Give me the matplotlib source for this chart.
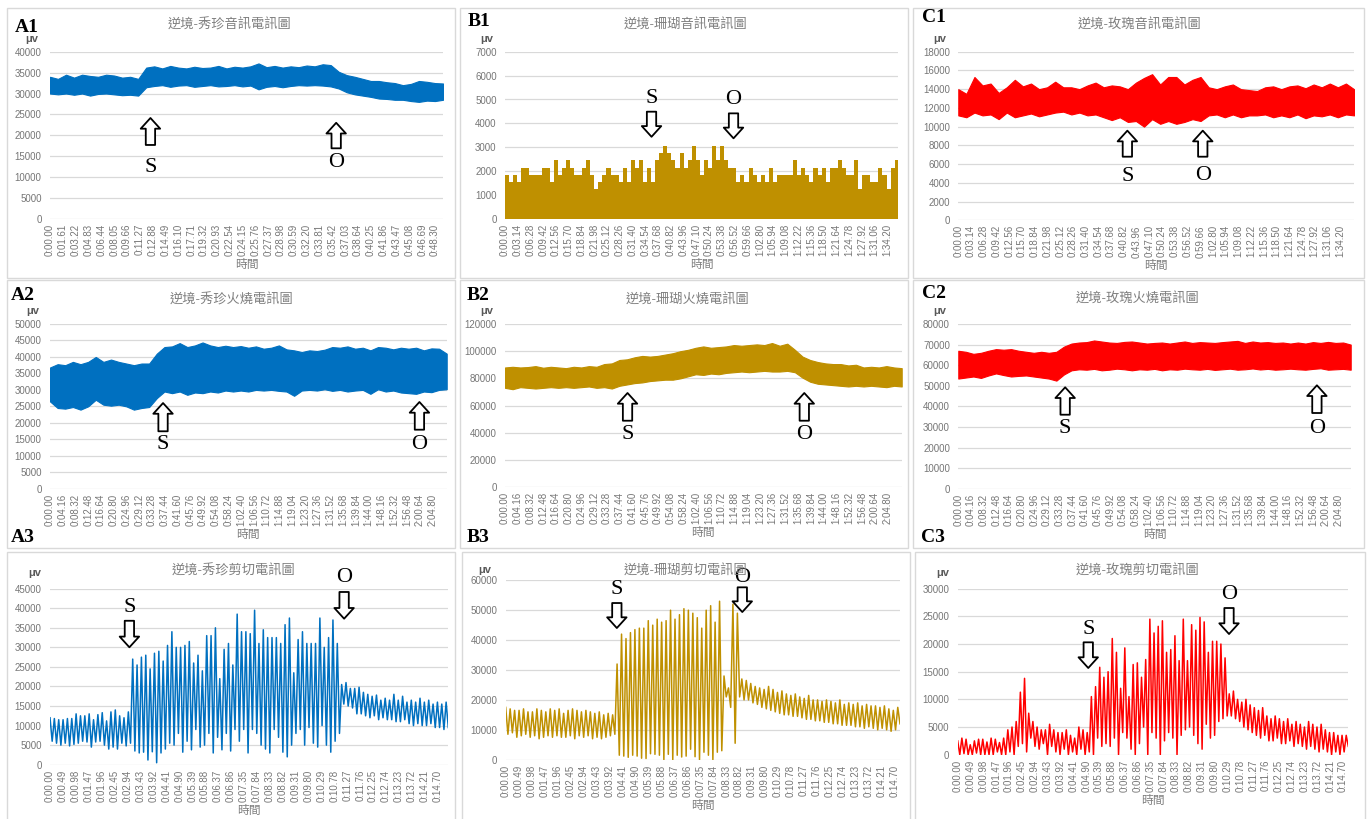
import numpy as np
import matplotlib.pyplot as plt
from matplotlib.patches import Rectangle

plt.rcParams['font.family'] = ['Liberation Sans', 'Noto Sans CJK TC', 'DejaVu Sans']

BLUE, GOLD, RED = '#0070C0', '#BF9000', '#FF0000'

# ---- data (µV) ----
# A1 音訊 (band envelope, one value per second)
a1_upper = [34000, 33500, 34500, 33800, 34500, 34200, 34000, 34500, 34300, 33800, 34000, 33500,
            36200, 36500, 36000, 36600, 36200, 36000, 36400, 36100, 36200, 36600, 36000, 36400,
            36200, 36500, 37200, 36300, 36600, 36200, 36500, 36300, 36700, 36500, 37000, 36800,
            35200, 34400, 34000, 33500, 33000, 33000, 32700, 32500, 32000, 32300, 33000, 32800,
            32500, 32400]
a1_lower = [30000, 29800, 30000, 29700, 30000, 29500, 29900, 30000, 29800, 29600, 29700, 29500,
            31500, 31800, 32000, 31600, 31900, 32000, 31600, 31800, 32000, 31700, 31800, 32000,
            31700, 31900, 31000, 31600, 31800, 31500, 31800, 32000, 31900, 32000, 31900, 31700,
            31200, 30300, 29800, 29500, 29200, 28800, 28700, 28500, 28500, 28200, 28000, 28300,
            28200, 28500]

# B1 音訊 (column heights, one per second)
b1_values = [1850, 1550, 1850, 1550, 2150, 2150, 1850, 1850, 1850, 2150, 2150, 1550, 2450, 1850,
             2150, 2450, 2150, 1850, 1850, 2150, 2450, 1850, 1250, 1550, 1850, 2150, 1850, 1850,
             1550, 2150, 1550, 2450, 2150, 2450, 1550, 2150, 1550, 2450, 2750, 3050, 2750, 2450,
             2150, 2750, 2150, 2450, 3050, 2450, 1850, 2450, 2150, 3050, 2450, 3050, 2450, 2150,
             2150, 1550, 1850, 1550, 2150, 1850, 1550, 1850, 1550, 2150, 1550, 1850, 1850, 1850,
             1850, 2450, 1850, 2150, 1850, 1550, 2150, 1850, 2150, 1550, 2150, 2150, 2450, 2150,
             1850, 1850, 2450, 1250, 1850, 1850, 1550, 1550, 2150, 1850, 1250, 2150, 2450]

# C1 音訊 (band envelope)
c1_upper = [14000, 13500, 15300, 14400, 14600, 13600, 14200, 15000, 14300, 14600, 14000, 14200,
            14800, 14200, 14200, 14000, 14400, 14700, 14200, 14400, 14300, 14000, 14700, 15200,
            15600, 14500, 15300, 15300, 14500, 15000, 15300, 14200, 14000, 14300, 14500, 14000,
            13900, 13800, 14200, 14300, 14000, 14300, 14400, 14100, 14500, 14200, 14600, 14200,
            14600, 14000]
c1_lower = [11200, 11000, 11500, 11200, 11300, 10800, 11500, 11000, 11200, 11400, 11100, 11300,
            11500, 11600, 11300, 11500, 11200, 11300, 11000, 10700, 11000, 10500, 10600, 10000,
            10800, 10300, 10600, 10300, 10500, 10800, 10600, 11200, 11300, 11000, 11300, 11000,
            11200, 11200, 11300, 11000, 11200, 11000, 11300, 10900, 11200, 11100, 11300, 11000,
            11300, 11200]

# A2 火燒 (band envelope)
a2_upper = [36800, 37800, 37500, 38500, 37800, 38500, 40000, 38500, 39200, 38500, 38000, 37500,
            38000, 38000, 41000, 43000, 43200, 44200, 43000, 43500, 44400, 43500, 43000, 43400,
            43000, 43300, 42800, 43200, 42500, 42800, 43500, 42300, 42000, 41500, 42000, 41800,
            42200, 43000, 42800, 43200, 42500, 42800, 42000, 43000, 42800, 42300, 42800, 42500,
            42800, 42000, 42600, 42500, 41000]
a2_lower = [26500, 24500, 24300, 24800, 24000, 25000, 27000, 25500, 25200, 25500, 25000, 24000,
            24500, 24800, 27500, 29500, 29000, 29500, 28500, 29200, 29000, 29500, 29200, 29800,
            29500, 29800, 29500, 30000, 29800, 30000, 29700, 29500, 28200, 29800, 30000, 29800,
            30200, 29700, 30000, 29500, 29800, 30000, 28800, 30200, 29500, 29800, 29200, 29000,
            28800, 29500, 29300, 30000, 30200]

# B2 火燒 (band envelope)
b2_upper = [88000, 88500, 88000, 88300, 89000, 87800, 88500, 88000, 87500, 88500, 88000, 89000,
            88500, 90500, 91000, 93500, 94000, 95500, 96500, 96000, 96500, 97500, 98500, 100000,
            101000, 102500, 103500, 102500, 103000, 103500, 104500, 104000, 104500, 105000, 104500,
            106000, 104000, 105500, 101000, 96000, 93500, 92000, 91000, 90500, 90500, 89500, 90000,
            88000, 88500, 88000, 89000, 88000, 87500]
b2_lower = [73000, 72000, 73500, 73000, 72500, 73000, 73500, 73000, 73500, 73000, 73500, 74000,
            73000, 73500, 72500, 74500, 75500, 76500, 77000, 78000, 78500, 79000, 79000, 80000,
            81500, 83000, 82500, 83500, 83000, 84000, 84500, 85000, 84500, 85000, 85500, 85000,
            85000, 85500, 84500, 80500, 77500, 76000, 75500, 75000, 74500, 74000, 74500, 74000,
            74500, 74000, 73500, 74500, 74000]

# C2 火燒 (band envelope)
c2_upper = [67000, 66500, 65500, 66000, 67000, 67800, 67500, 67800, 67000, 66500, 66000, 66500,
            66000, 66500, 69000, 70500, 71000, 71200, 72000, 71500, 71000, 70800, 71300, 71500,
            71000, 70500, 70800, 71000, 70500, 71000, 71500, 70800, 71200, 71000, 70800, 71200,
            71500, 71800, 70800, 71500, 71000, 71200, 70800, 71000, 70500, 71000, 70500, 71200,
            70800, 71300, 70800, 71000, 70000]
c2_lower = [53500, 54000, 54500, 53800, 55000, 56000, 55200, 54500, 54800, 55000, 54500, 54000,
            53500, 52500, 55500, 57500, 58000, 57800, 58200, 57500, 57800, 58300, 58000, 57500,
            58000, 57800, 58200, 57500, 58000, 57800, 58300, 58000, 57800, 58200, 57700, 58000,
            58300, 57800, 58000, 58400, 57900, 58200, 57800, 58000, 58300, 58000, 57800, 58200,
            58500, 57800, 58000, 58200, 57800]

# A3 剪切 (peak / trough of each cycle)
a3_peaks = [12000, 11800, 11500, 11500, 11800, 11800, 13000, 12500, 12500, 13000, 11500, 12800,
            13300, 11200, 13500, 14000, 12500, 12000, 13500,
            27000, 25500, 27500, 28000, 24500, 28500, 29000, 26500, 30500, 34000, 30000, 30000,
            30500, 31500, 26000, 28000, 24000, 33000, 33000, 35000, 22000, 29500, 31000, 25500,
            38500, 34000, 34000, 33500, 39500, 31000, 34500, 32500, 32500, 32500, 31000, 35800,
            37500, 23500, 32000, 34000, 31000, 31000, 31000, 37500, 30000, 32500, 37000, 31000,
            20500, 21000, 19500, 19500, 19800, 18500, 18000, 17500, 17800, 16500, 17000, 16500,
            18000, 16500, 17500, 16000, 16500, 16000, 17000, 16000, 16500, 15500, 16000, 15500, 16000]
a3_troughs = [6000, 5500, 5000, 5500, 4800, 5200, 5500, 6000, 5800, 4500, 5800, 6000, 5000, 4000,
              4500, 4000, 5500, 4800, 5500,
              3500, 3000, 3200, 1200, 3300, 500, 3000, 4000, 5500, 5000, 8000, 3200, 6000, 3800,
              9000, 4500, 5000, 8000, 3000, 7000, 3800, 8000, 3500, 9000, 6000, 9000, 3000, 9000,
              8000, 5000, 4000, 3000, 9000, 7000, 3200, 2000, 5000, 8000, 9000, 5000, 9500, 5500,
              4500, 10000, 5000, 3200, 6000, 8000,
              15500, 15000, 14500, 13000, 13000, 12500, 12000, 12500, 11500, 12000, 11500, 11500,
              11000, 11000, 11500, 10500, 10000, 10500, 10000, 10000, 10500, 9500, 9500, 9000, 9500]

# B3 剪切
b3_peaks = [17500, 17000, 16500, 16500, 17000, 16000, 16000, 17000, 16500, 16000, 17000, 16500,
            17000, 15500, 16500, 17000, 16500, 16000, 16500, 16000, 15500, 16000, 15000, 15500, 15000,
            32000, 42000, 40500, 42500, 43500, 44000, 44000, 46500, 45000, 47000, 46000, 46500,
            50000, 47000, 48500, 50500, 50000, 49000, 47500, 44000, 50000, 51500, 46000, 53000,
            28000, 24000, 52000, 49000, 27000,
            26500, 25500, 24500, 24000, 23500, 24500, 23500, 22500, 23000, 22000, 21500, 22000,
            21000, 20500, 21500, 20000, 20000, 19500, 20000, 19500, 19000, 20000, 18500, 19000,
            18500, 19000, 18000, 18500, 18000, 18000, 17500, 18000, 17000, 16500, 17500]
b3_troughs = [8500, 9000, 7500, 8000, 8500, 7500, 8000, 7000, 7500, 8000, 7500, 8000, 7500, 7500,
              8000, 7000, 8000, 7500, 8000, 7000, 7500, 7000, 7500, 8000, 8500,
              1500, 1200, 800, 1500, 1200, 500, 400, 2000, 1800, 1500, 0, 1800, 0, 1500, 900,
              1200, 3500, 1000, 0, 2500, 1500, 0, 2500, 3000,
              21000, 17500, 5500, 21000, 20000,
              20000, 19000, 18500, 17500, 17000, 16500, 16000, 15500, 15000, 15000, 14500, 14500,
              14000, 13500, 13500, 13000, 13000, 12500, 12500, 12000, 12000, 11500, 11500, 11500,
              11000, 11000, 10500, 11000, 10500, 10000, 10500, 10000, 9500, 10000, 12000]

# C3 剪切
c3_peaks = [2500, 3000, 2800, 1800, 2500, 2800, 2800, 2300, 3000, 2800, 2200,
            3000, 4500, 5000, 6000, 11300, 13800,
            7500, 6000, 5000, 4500, 4500, 5500, 4500, 4000, 4000, 4500, 3500, 3000, 5000, 4500, 4000,
            10500, 12300, 15800, 14000, 15000, 21000, 18500, 12000, 19300, 10500, 16300, 16600,
            14000, 17200, 24500, 22000, 23200, 24200, 18500, 19000, 21500, 17000, 24500, 17000,
            23500, 22500, 24800, 24000, 18500, 20500, 20500, 20000, 17500,
            11000, 11500, 10000, 9500, 10000, 9000, 8500, 8000, 8500, 7000, 6500, 7000, 6500, 6000,
            6500, 5500, 6000, 5500, 5000, 6000, 5500, 5000, 5500, 4500, 4000, 4000, 3500, 3500, 3500]
c3_troughs = [0, 200, 0, 0, 300, 0, 0, 0, 0, 500, 0,
              0, 500, 0, 1500, 2000, 500,
              3000, 1500, 1000, 2000, 0, 1500, 500, 0, 1000, 0, 500, 0, 1000, 0, 500,
              0, 3000, 1500, 2000, 1500, 3000, 0, 4000, 3000, 1000, 0, 2000, 5000, 0, 4000, 3000,
              0, 2500, 4000, 3000, 0, 3500, 4500, 5000, 3500, 2000, 1000, 5500, 3000, 3500, 6000,
              6500, 7000,
              7000, 6500, 6000, 5000, 4500, 4000, 3500, 3000, 3500, 2500, 2500, 3000, 2000, 2000,
              2500, 1500, 2000, 1500, 1000, 1500, 1000, 500, 1000, 500, 0, 500, 0, 500, 1500]

titles = ['逆境-秀珍音訊電訊圖', '逆境-珊瑚音訊電訊圖', '逆境-玫瑰音訊電訊圖',
          '逆境-秀珍火燒電訊圖', '逆境-珊瑚火燒電訊圖', '逆境-玫瑰火燒電訊圖',
          '逆境-秀珍剪切電訊圖', '逆境-珊瑚剪切電訊圖', '逆境-玫瑰剪切電訊圖']
panel_names = ['A1', 'B1', 'C1', 'A2', 'B2', 'C2', 'A3', 'B3', 'C3']

# ---- layout (pixels of the 1369x819 canvas) ----
W, H = 1369, 819
fig = plt.figure(figsize=(W / 100, H / 100), dpi=100)
fig.patch.set_facecolor('white')

axes_px = [(50, 51.7, 443, 219), (505, 51.7, 898.3, 219), (958.3, 51.7, 1354, 220.3),
           (50, 324, 446.7, 488.7), (505, 324, 901.7, 487), (958.3, 324, 1350.7, 488.7),
           (50, 588.7, 448.3, 764.7), (505.7, 580.3, 900, 759.7), (957.7, 588.7, 1348.3, 754.7)]
boxes_px = [(7, 8, 455, 278), (460, 8, 908, 278), (913, 8, 1364, 278),
            (7, 280, 455, 548), (460, 280, 908, 548), (913, 280, 1364, 548),
            (7, 552, 455, 830), (462, 552, 910, 830), (915, 552, 1365, 830)]
title_px = [(230, 25), (685, 25), (1140, 25), (232, 300), (687, 300), (1138, 299),
            (233, 571), (685, 571), (1137, 571)]
uv_px = [(32, 39), (487, 39), (940, 39), (33, 311), (487, 311), (940, 311),
         (35, 573), (485, 570), (943, 573)]
name_px = [(27, 27), (479, 21), (934, 18), (23, 295), (478, 295), (934, 294),
           (23, 537), (478, 538), (933, 537)]
ymax = [40000, 7000, 18000, 50000, 120000, 80000, 45000, 60000, 30000]
ystep = [5000, 1000, 2000, 5000, 20000, 10000, 5000, 10000, 5000]
tstep = [1.61, 3.14, 3.14, 4.16, 4.16, 4.16, 0.49, 0.49, 0.49]
tmax = [49.3, 96.9, 97.6, 129.5, 129.5, 128.9, 15.1, 14.9, 14.9]

# S / O arrows: (letter, x, tail, tip, letter_y)
marks = [
    [('S', 12.6, 17700, 24150, 12430), ('O', 35.9, 16900, 23000, 13400)],
    [('S', 36.1, 4490, 3440, 5050), ('O', 56.3, 4420, 3376, 5010)],
    [('S', 41.7, 6790, 9570, 4660), ('O', 60.3, 6790, 9570, 4730)],
    [('S', 36.9, 17430, 26000, 13360), ('O', 120.6, 17910, 26320, 13360)],
    [('S', 40.0, 48800, 69200, 38500), ('O', 97.7, 48800, 69200, 38500)],
    [('S', 35.1, 35940, 49250, 29140), ('O', 117.8, 36770, 50220, 29480)],
    [('S', 3.01, 36800, 30020, 40070), ('O', 11.15, 44160, 37330, 47740)],
    [('S', 4.2, 52400, 44040, 56850), ('O', 8.94, 57650, 49390, 61000)],
    [('S', 4.98, 20310, 15670, 22590), ('O', 10.35, 26510, 21810, 28910)],
]


def tlabel(t):
    m = int(t // 60 + 1e-9)
    return f"{m}:{t - 60 * m:05.2f}"


def fx(x):
    return x / W


def fy(y):
    return 1 - y / H


axs = []
for i in range(9):
    x0, y0, x1, y1 = boxes_px[i]
    fig.add_artist(Rectangle((fx(x0), fy(y1)), (x1 - x0) / W, (y1 - y0) / H,
                             transform=fig.transFigure, fill=False, ec='#d9d9d9', lw=1))
    x0, y0, x1, y1 = axes_px[i]
    ax = fig.add_axes([fx(x0), fy(y1), (x1 - x0) / W, (y1 - y0) / H])
    ax.set_xlim(0, tmax[i])
    ax.set_ylim(0, ymax[i])
    ax.set_yticks(np.arange(0, ymax[i] + 1, ystep[i]))
    ticks = tstep[i] * np.arange(31)
    ax.set_xticks(ticks)
    ax.set_xticklabels([tlabel(t) for t in ticks], rotation=90)
    for s in ax.spines.values():
        s.set_visible(False)
    ax.grid(axis='y', color='#d9d9d9', lw=0.9)
    ax.set_axisbelow(True)
    ax.tick_params(length=0, labelsize=7, colors='#767676')
    ax.tick_params(axis='y', pad=6)
    ax.tick_params(axis='x', pad=3.5)
    ax.set_xlabel('時間', fontsize=8.5, color='#7f7f7f', labelpad=2)
    axs.append(ax)

    fig.text(fx(title_px[i][0]), fy(title_px[i][1]), titles[i], ha='center', va='center',
             fontsize=9.5, color='#7f7f7f')
    fig.text(fx(uv_px[i][0]), fy(uv_px[i][1]), 'μv', ha='center', va='center',
             fontsize=8, fontweight='bold', color='#595959')
    fig.text(fx(name_px[i][0]), fy(name_px[i][1]), panel_names[i], ha='center', va='center',
             fontsize=14, fontweight='bold', family='Liberation Serif')

# band signals
bands = [(0, a1_upper, a1_lower, BLUE), (2, c1_upper, c1_lower, RED),
         (3, a2_upper, a2_lower, BLUE), (4, b2_upper, b2_lower, GOLD),
         (5, c2_upper, c2_lower, RED)]
for i, up, lo, c in bands:
    t = np.linspace(0, tmax[i], len(up))
    axs[i].fill_between(t, lo, up, color=c, lw=0.8)

# column signal
axs[1].bar(np.arange(len(b1_values)), b1_values, width=1.0, align='edge', color=GOLD, lw=0)

# oscillating line signals
lines = [(6, a3_peaks, a3_troughs, BLUE), (7, b3_peaks, b3_troughs, GOLD),
         (8, c3_peaks, c3_troughs, RED)]
for i, pk, tr, c in lines:
    y = np.column_stack([pk, tr]).ravel()
    t = np.linspace(0, tmax[i], len(y))
    axs[i].plot(t, y, color=c, lw=1.1)

# S / O markers
for i in range(9):
    for letter, x, tail, tip, ly in marks[i]:
        axs[i].annotate('', xy=(x, tip), xytext=(x, tail), annotation_clip=False,
                        arrowprops=dict(arrowstyle='simple,head_length=0.55,head_width=1.0,tail_width=0.48',
                                        mutation_scale=14, fc='white', ec='black', lw=1.3,
                                        shrinkA=0, shrinkB=0))
        axs[i].text(x, ly, letter, ha='center', va='center', fontsize=16,
                    family='Liberation Serif', color='black')

fig.savefig('out.png', dpi=100, facecolor='white')
